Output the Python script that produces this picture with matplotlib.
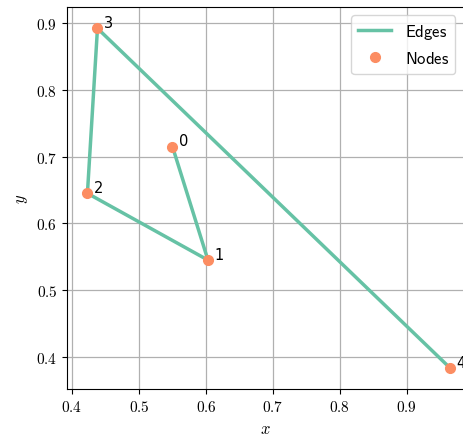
import matplotlib
matplotlib.use('Agg')
import matplotlib.pyplot as plt
from matplotlib.ticker import FuncFormatter

plt.rcParams['mathtext.fontset'] = 'cm'
plt.rcParams['font.size'] = 11

# Координаты узлов и рёбра пути
node_ids = [0, 1, 2, 3, 4]
node_x = [0.550, 0.603, 0.423, 0.438, 0.965]
node_y = [0.715, 0.545, 0.645, 0.892, 0.383]
edges = [(0, 1), (1, 2), (2, 3), (3, 4)]

edge_color = '#66c2a5'
node_color = '#fc8d62'

fig = plt.figure(figsize=(4.63, 4.39), dpi=100)
ax = fig.add_axes([0.1447, 0.1116, 0.857, 0.8702])

for i, (u, v) in enumerate(edges):
    ax.plot([node_x[u], node_x[v]], [node_y[u], node_y[v]], color=edge_color,
            linewidth=2.5, zorder=2, label=r'$\mathsf{Edges}$' if i == 0 else None)

ax.plot(node_x, node_y, 'o', color=node_color, markersize=7, zorder=3,
        label=r'$\mathsf{Nodes}$')

for n, x, y in zip(node_ids, node_x, node_y):
    ax.annotate(str(n), (x, y), xytext=(4.5, 1), textcoords='offset points',
                fontsize=10.5, family='DejaVu Sans', zorder=4)

ax.set_xlim(0.3925, 0.985)
ax.set_ylim(0.352, 0.924)
ax.set_xticks([0.4, 0.5, 0.6, 0.7, 0.8, 0.9])
ax.set_yticks([0.4, 0.5, 0.6, 0.7, 0.8, 0.9])
fmt = FuncFormatter(lambda v, p: r'$%.1f$' % v)
ax.xaxis.set_major_formatter(fmt)
ax.yaxis.set_major_formatter(fmt)
ax.tick_params(labelsize=11)
ax.grid(True, color='#b0b0b0', linewidth=0.9)
ax.set_axisbelow(True)

ax.set_xlabel(r'$x$', fontsize=12)
ax.set_ylabel(r'$y$', fontsize=12)

ax.legend(loc='upper right', fontsize=12, handlelength=2.0)

fig.savefig('out.png', dpi=100)
